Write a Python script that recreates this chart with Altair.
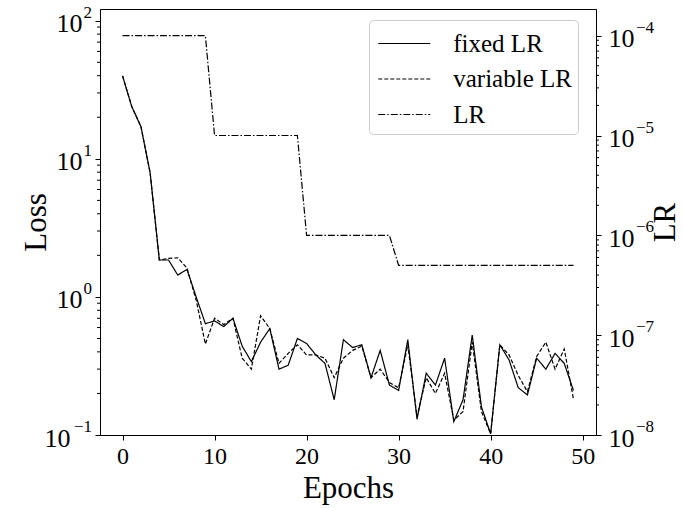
import altair as alt
import pandas as pd

# ---- data -------------------------------------------------------------
epochs = list(range(50))

fixed_lr_loss = [
    39.9, 23.9, 17.1, 7.9, 1.85, 1.85, 1.44, 1.58, 1.0, 0.64,
    0.67, 0.61, 0.70, 0.44, 0.34, 0.47, 0.59, 0.30, 0.32, 0.50,
    0.46, 0.38, 0.33, 0.18, 0.49, 0.43, 0.45, 0.26, 0.41, 0.23,
    0.21, 0.49, 0.13, 0.28, 0.23, 0.36, 0.125, 0.18, 0.53, 0.16,
    0.102, 0.45, 0.35, 0.22, 0.195, 0.36, 0.30, 0.39, 0.33, 0.21,
]

variable_lr_loss = [
    39.9, 23.9, 17.1, 7.9, 1.85, 1.9, 1.92, 1.62, 0.95, 0.456,
    0.70, 0.63, 0.70, 0.36, 0.30, 0.73, 0.59, 0.33, 0.39, 0.45,
    0.38, 0.38, 0.36, 0.26, 0.36, 0.41, 0.44, 0.26, 0.30, 0.24,
    0.22, 0.45, 0.136, 0.26, 0.20, 0.28, 0.128, 0.148, 0.47, 0.148,
    0.102, 0.45, 0.38, 0.27, 0.206, 0.37, 0.47, 0.30, 0.42, 0.182,
]

learning_rate = [
    1e-4, 1e-4, 1e-4, 1e-4, 1e-4, 1e-4, 1e-4, 1e-4, 1e-4, 1e-4,
    1e-5, 1e-5, 1e-5, 1e-5, 1e-5, 1e-5, 1e-5, 1e-5, 1e-5, 1e-5,
    1e-6, 1e-6, 1e-6, 1e-6, 1e-6, 1e-6, 1e-6, 1e-6, 1e-6, 1e-6,
    5e-7, 5e-7, 5e-7, 5e-7, 5e-7, 5e-7, 5e-7, 5e-7, 5e-7, 5e-7,
    5e-7, 5e-7, 5e-7, 5e-7, 5e-7, 5e-7, 5e-7, 5e-7, 5e-7, 5e-7,
]

series_names = ["fixed LR", "variable LR", "LR"]
epoch_ticks = [0, 10, 20, 30, 40, 50]
loss_exponents = [-1, 0, 1, 2]
lr_exponents = [-8, -7, -6, -5, -4]
loss_decades = [10.0 ** e for e in loss_exponents]
lr_decades = [10.0 ** e for e in lr_exponents]
loss_minor = [m * 10.0 ** k for k in (-1, 0, 1) for m in range(2, 10)]
lr_minor = [m * 10.0 ** k for k in (-8, -7, -6, -5) for m in range(2, 10)]

FONT = "Liberation Serif"
W, H = 496, 426
BASE_SIZE = 26   # size of the "10" in the decade labels
EXP_SIZE = 17    # size of the exponent


def exp_text(e):
    return str(e).replace("-", "\u2212")


loss_df = pd.DataFrame({
    "epoch": epochs + epochs,
    "loss": fixed_lr_loss + variable_lr_loss,
    "series": ["fixed LR"] * len(epochs) + ["variable LR"] * len(epochs),
})
lr_df = pd.DataFrame({"epoch": epochs, "lr": learning_rate, "series": ["LR"] * len(epochs)})
loss_exp_df = pd.DataFrame({"loss": loss_decades, "exp": [exp_text(e) for e in loss_exponents]})
lr_exp_df = pd.DataFrame({"lr": lr_decades, "exp": [exp_text(e) for e in lr_exponents]})

dash_scale = alt.Scale(domain=series_names, range=[[1, 0], [4, 2], [7, 2, 1.5, 2]])
dash_legend = alt.Legend(
    orient="none", legendX=269, legendY=11, title=None,
    symbolType="M-1.56,0H1.56", symbolSize=1109, symbolStrokeWidth=1.2,
    symbolStrokeColor="black", symbolOffset=11.75,
    labelFont=FONT, labelFontSize=25, labelColor="black",
    labelOffset=31.5, labelLimit=400,
    padding=6, rowPadding=4.5, cornerRadius=4,
    strokeColor="#cccccc", fillColor="rgba(255,255,255,0.8)",
)

x_enc = alt.X(
    "epoch:Q",
    scale=alt.Scale(domain=[-2.45, 51.45], nice=False, zero=False),
    axis=alt.Axis(values=epoch_ticks, title="Epochs", grid=False,
                  tickSize=5, labelPadding=4, labelFontSize=24,
                  titleFontSize=31, titleX=W / 2, titleY=53,
                  titleBaseline="middle", titleFontWeight="normal"),
)

loss_scale = alt.Scale(type="log", domain=[0.1, 121.6], nice=False)
lr_scale = alt.Scale(type="log", domain=[1e-8, 1.85e-4], nice=False)

# loss curves (left axis)
loss_lines = alt.Chart(loss_df).mark_line(color="black", strokeWidth=1.2).encode(
    x=x_enc,
    y=alt.Y("loss:Q", scale=loss_scale,
            axis=alt.Axis(values=loss_decades, labelExpr="'10'",
                          title="Loss", grid=False, tickSize=5,
                          labelPadding={"condition": {"test": "datum.value < 0.5", "value": 25},
                                        "value": 13},
                          labelOffset=3, labelFontSize=BASE_SIZE,
                          titleFontSize=31, titleX=-64, titleY=H / 2,
                          titleAngle=270, titleBaseline="middle", titleFontWeight="normal")),
    strokeDash=alt.StrokeDash("series:N", scale=dash_scale, legend=dash_legend),
)

loss_minor_ticks = alt.Chart(pd.DataFrame({"loss": loss_minor})).mark_rule(
    color="black", strokeWidth=1
).encode(x=alt.value(0), x2=alt.value(-3), y=alt.Y("loss:Q", scale=loss_scale))

loss_exp_labels = alt.Chart(loss_exp_df).mark_text(
    align="right", baseline="middle", font=FONT, fontSize=EXP_SIZE, color="black", dy=-8
).encode(x=alt.value(-8), y=alt.Y("loss:Q", scale=loss_scale), text="exp:N")

# learning-rate schedule (right axis)
lr_line = alt.Chart(lr_df).mark_line(color="black", strokeWidth=1.2).encode(
    x=x_enc,
    y=alt.Y("lr:Q", scale=lr_scale,
            axis=alt.Axis(orient="right", values=lr_decades, labelExpr="'10'",
                          title="LR", grid=False, tickSize=5, labelPadding=7,
                          labelOffset=3, labelFontSize=BASE_SIZE,
                          titleFontSize=31, titleX=69, titleY=H / 2,
                          titleAngle=270, titleBaseline="middle", titleFontWeight="normal")),
    strokeDash=alt.StrokeDash("series:N", scale=dash_scale, legend=dash_legend),
)

lr_minor_ticks = alt.Chart(pd.DataFrame({"lr": lr_minor})).mark_rule(
    color="black", strokeWidth=1
).encode(x=alt.value(W), x2=alt.value(W + 3), y=alt.Y("lr:Q", scale=lr_scale))

lr_exp_labels = alt.Chart(lr_exp_df).mark_text(
    align="left", baseline="middle", font=FONT, fontSize=EXP_SIZE, color="black", dy=-8
).encode(x=alt.value(W + 40), y=alt.Y("lr:Q", scale=lr_scale), text="exp:N")

chart = alt.layer(
    alt.layer(loss_lines, loss_minor_ticks, loss_exp_labels),
    alt.layer(lr_line, lr_minor_ticks, lr_exp_labels),
).resolve_scale(y="independent").properties(
    width=W, height=H,
    padding={"left": 100, "top": 9, "right": 87, "bottom": 73},
    autosize=alt.AutoSizeParams(type="none"),
    background="white",
).configure_view(
    stroke="black", strokeWidth=1,
).configure_axis(
    labelFont=FONT, titleFont=FONT, labelColor="black", titleColor="black",
    domainColor="black", tickColor="black", domainWidth=1, tickWidth=1,
)

chart.save("out.html", embed_options={"renderer": "svg", "actions": False})
